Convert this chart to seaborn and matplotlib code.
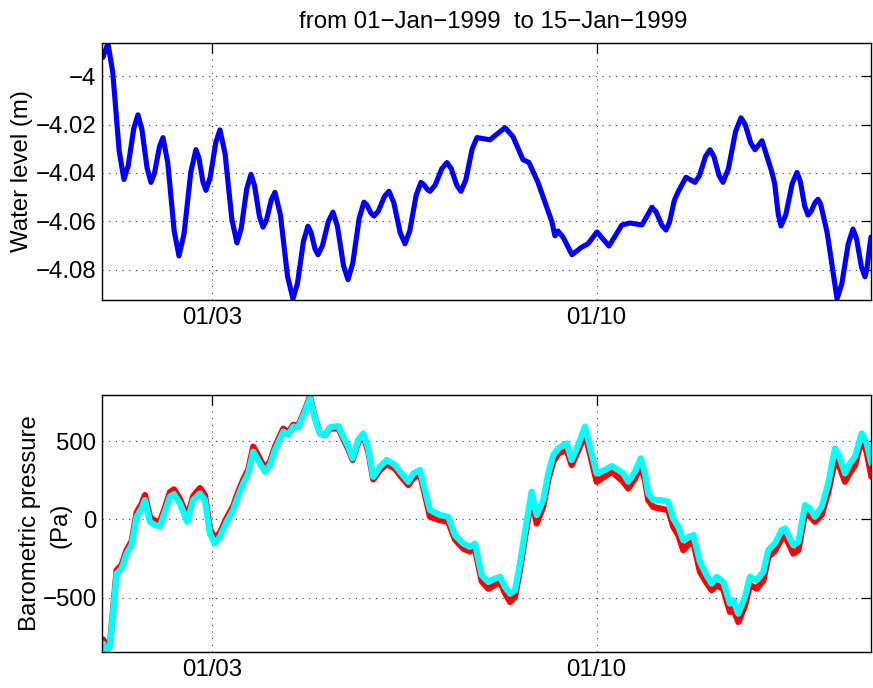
import numpy as np
import pandas as pd
import matplotlib
matplotlib.use("Agg")
import matplotlib.pyplot as plt
import seaborn as sns

# ---------------- data ----------------
start_date = "1999-01-01"
end_days = 14
title_text = "from 01\u2212Jan\u22121999  to 15\u2212Jan\u22121999"
xtick_dates = ["1999-01-03", "1999-01-10"]
xtick_labels = ["01/03", "01/10"]

wl_days = [0.018, 0.109, 0.196, 0.313, 0.400, 0.477, 0.579, 0.655, 0.726, 0.821,
           0.892, 0.957, 1.045, 1.110, 1.197, 1.314, 1.401, 1.494, 1.617, 1.710,
           1.765, 1.837, 1.892, 1.969, 2.071, 2.147, 2.240, 2.363, 2.456, 2.533,
           2.635, 2.711, 2.776, 2.864, 2.929, 2.995, 3.082, 3.148, 3.246, 3.377,
           3.475, 3.557, 3.666, 3.748, 3.803, 3.875, 3.930, 4.012, 4.121, 4.203,
           4.285, 4.394, 4.476, 4.563, 4.680, 4.767, 4.822, 4.894, 4.949, 5.031,
           5.140, 5.222, 5.309, 5.426, 5.513, 5.600, 5.717, 5.804, 5.853, 5.919,
           5.968, 6.061, 6.184, 6.277, 6.354, 6.456, 6.532, 6.619, 6.736, 6.823,
           7.060, 7.333, 7.478, 7.660, 7.769, 7.933, 8.188, 8.242, 8.297, 8.388,
           8.552, 8.734, 8.843, 9.007, 9.225, 9.461, 9.607, 9.825, 10.007, 10.084,
           10.186, 10.262, 10.327, 10.415, 10.480, 10.626, 10.790, 10.872, 10.981, 11.063,
           11.134, 11.228, 11.299, 11.397, 11.529, 11.627, 11.703, 11.805, 11.881, 12.009,
           12.191, 12.240, 12.306, 12.355, 12.442, 12.559, 12.646, 12.706, 12.786, 12.846,
           12.901, 12.973, 13.028, 13.077, 13.192, 13.250, 13.374, 13.461, 13.578, 13.665,
           13.730, 13.818, 13.883, 13.916, 13.959, 13.992]
wl_m = [-3.9922, -3.9865, -3.9983, -4.0309, -4.0427, -4.0371, -4.0216, -4.0160, -4.0219, -4.0380,
        -4.0439, -4.0400, -4.0293, -4.0254, -4.0357, -4.0640, -4.0743, -4.0651, -4.0396, -4.0304,
        -4.0339, -4.0437, -4.0472, -4.0419, -4.0274, -4.0222, -4.0320, -4.0591, -4.0689, -4.0630,
        -4.0465, -4.0406, -4.0452, -4.0578, -4.0624, -4.0594, -4.0510, -4.0480, -4.0572, -4.0828,
        -4.0920, -4.0857, -4.0683, -4.0620, -4.0645, -4.0713, -4.0738, -4.0701, -4.0599, -4.0562,
        -4.0621, -4.0782, -4.0841, -4.0774, -4.0588, -4.0521, -4.0533, -4.0566, -4.0578, -4.0557,
        -4.0497, -4.0476, -4.0522, -4.0647, -4.0693, -4.0640, -4.0492, -4.0439, -4.0447, -4.0468,
        -4.0476, -4.0451, -4.0382, -4.0357, -4.0382, -4.0451, -4.0476, -4.0429, -4.0301, -4.0254,
        -4.0263, -4.0213, -4.0250, -4.0345, -4.0357, -4.0439, -4.0603, -4.0660, -4.0640, -4.0665,
        -4.0738, -4.0706, -4.0693, -4.0644, -4.0702, -4.0615, -4.0607, -4.0615, -4.0542, -4.0562,
        -4.0616, -4.0636, -4.0603, -4.0513, -4.0480, -4.0418, -4.0439, -4.0411, -4.0332, -4.0304,
        -4.0332, -4.0411, -4.0439, -4.0383, -4.0228, -4.0172, -4.0200, -4.0276, -4.0304, -4.0267,
        -4.0398, -4.0444, -4.0573, -4.0619, -4.0573, -4.0444, -4.0398, -4.0435, -4.0537, -4.0574,
        -4.0560, -4.0523, -4.0509, -4.0530, -4.0644, -4.0730, -4.0920, -4.0859, -4.0693, -4.0632,
        -4.0673, -4.0788, -4.0829, -4.0800, -4.0720, -4.0665]
wl_ticks = [-4.08, -4.06, -4.04, -4.02, -4.0]
wl_ticklabels = ["\u22124.08", "\u22124.06", "\u22124.04", "\u22124.02", "\u22124"]
wl_ylim = (-4.0925, -3.9863)

bp_days = [0.024, 0.086, 0.146, 0.206, 0.267, 0.358, 0.449, 0.540, 0.631, 0.722,
           0.782, 0.873, 0.964, 1.055, 1.146, 1.237, 1.310, 1.419, 1.552, 1.661,
           1.783, 1.874, 1.965, 2.056, 2.147, 2.269, 2.389, 2.451, 2.571, 2.662,
           2.753, 2.875, 2.966, 3.057, 3.148, 3.299, 3.390, 3.481, 3.572, 3.694,
           3.785, 3.876, 3.967, 4.057, 4.148, 4.299, 4.391, 4.481, 4.561, 4.663,
           4.754, 4.845, 4.936, 5.058, 5.180, 5.331, 5.453, 5.573, 5.664, 5.786,
           5.877, 5.968, 6.150, 6.301, 6.423, 6.574, 6.696, 6.787, 6.909, 7.029,
           7.151, 7.242, 7.333, 7.424, 7.515, 7.606, 7.697, 7.818, 7.909, 8.030,
           8.121, 8.212, 8.303, 8.455, 8.546, 8.666, 8.788, 8.879, 9.001, 9.152,
           9.274, 9.394, 9.485, 9.576, 9.698, 9.802, 9.880, 9.940, 10.031, 10.153,
           10.304, 10.395, 10.486, 10.577, 10.668, 10.759, 10.881, 11.002, 11.093, 11.184,
           11.305, 11.426, 11.487, 11.578, 11.699, 11.790, 11.912, 12.033, 12.124, 12.245,
           12.367, 12.427, 12.518, 12.578, 12.669, 12.700, 12.791, 12.882, 12.973, 13.095,
           13.215, 13.337, 13.428, 13.519, 13.610, 13.701, 13.823, 13.914, 14.000]
bp_cyan = [-794, -836, -815, -580, -346, -314, -218, -164, 17, 70,
           124, -15, -36, -43, 49, 145, 162, 102, -15, 124,
           166, 124, -90, -154, -111, -15, 60, 124, 230, 294,
           433, 358, 305, 348, 444, 561, 540, 593, 589, 689,
           774, 646, 550, 540, 589, 597, 529, 465, 390, 508,
           550, 454, 273, 337, 380, 348, 294, 241, 294, 316,
           188, 60, 28, 17, -100, -154, -175, -154, -356, -399,
           -378, -367, -431, -474, -452, -282, -79, 177, 28, 124,
           294, 412, 454, 486, 380, 476, 593, 465, 294, 316,
           341, 316, 294, 241, 305, 390, 294, 166, 124, 124,
           113, 6, -47, -132, -111, -100, -271, -356, -410, -367,
           -399, -538, -516, -602, -495, -367, -388, -335, -196, -154,
           -68, -58, -122, -164, -143, -90, 92, 70, 17, 81,
           230, 454, 390, 294, 358, 401, 550, 486, 358]
bp_red = [-768, -815, -800, -560, -325, -290, -195, -140, 45, 100,
          156, 15, -10, -15, 75, 175, 192, 130, 15, 150,
          200, 155, -60, -125, -85, 10, 85, 150, 255, 318,
          465, 385, 325, 370, 465, 580, 555, 605, 600, 700,
          785, 650, 550, 538, 580, 585, 515, 450, 380, 495,
          535, 435, 256, 315, 355, 325, 270, 220, 265, 290,
          160, 17, -4, -15, -128, -186, -205, -185, -395, -442,
          -420, -399, -470, -527, -495, -320, -115, 140, -26, 85,
          255, 370, 422, 445, 348, 440, 550, 420, 241, 275,
          305, 270, 241, 198, 262, 348, 250, 124, 80, 70,
          60, -47, -100, -196, -160, -143, -335, -405, -452, -420,
          -445, -591, -570, -655, -550, -420, -442, -390, -239, -200,
          -122, -105, -170, -218, -196, -140, 38, 20, -15, 30,
          175, 380, 330, 241, 300, 345, 518, 430, 273]
bp_ticks = [-500, 0, 500]
bp_ticklabels = ["\u2212500", "0", "500"]
bp_ylim = (-847, 795)
bp_label_lines = ["Barometric pressure", "(Pa)"]

# ---------------- figure ----------------
sns.set_style("white")
plt.rcParams["font.family"] = ["Liberation Sans", "DejaVu Sans"]
plt.rcParams["text.color"] = "black"
plt.rcParams["axes.labelcolor"] = "black"
FS = 17.3

fig = plt.figure(figsize=(8.73, 6.88), dpi=100)
ax1 = fig.add_axes([0.1168, 0.5640, 0.8814, 0.3735])
ax2 = fig.add_axes([0.1168, 0.0523, 0.8814, 0.3735])

t0 = pd.Timestamp(start_date)
df_wl = pd.DataFrame({"time": t0 + pd.to_timedelta(wl_days, unit="D"), "level": wl_m})
df_bp = pd.DataFrame({"time": t0 + pd.to_timedelta(bp_days, unit="D"),
                      "red": bp_red, "cyan": bp_cyan})

line_kw = dict(estimator=None, sort=False, legend=False,
               solid_capstyle="round", solid_joinstyle="round")
sns.lineplot(data=df_wl, x="time", y="level", ax=ax1, color="#0000ff", lw=3.7, **line_kw)
sns.lineplot(data=df_bp, x="time", y="red", ax=ax2, color="#ff0000", lw=4.5, **line_kw)
sns.lineplot(data=df_bp, x="time", y="cyan", ax=ax2, color="#00ffff", lw=4.5, **line_kw)

xt = [pd.Timestamp(d) for d in xtick_dates]
for ax in (ax1, ax2):
    ax.set_xlim(t0, t0 + pd.Timedelta(days=end_days))
    ax.set_xticks(xt)
    ax.set_xticklabels(xtick_labels)
    ax.set_xlabel("")
    ax.grid(True, color="0.2", linestyle=(0, (1, 5)), lw=0.8)
    ax.set_axisbelow(True)
    ax.tick_params(direction="in", length=7, width=0.9, top=True, right=True,
                   labelsize=FS, pad=5, colors="black")
    ax.tick_params(axis="y", pad=4)
    for s in ax.spines.values():
        s.set_visible(True)
        s.set_color("black")
        s.set_linewidth(1.0)

ax1.set_ylim(*wl_ylim)
ax1.set_yticks(wl_ticks)
ax1.set_yticklabels(wl_ticklabels)
ax1.set_ylabel("Water level (m)", fontsize=FS, color="black")
ax1.yaxis.set_label_coords(-0.0897, 0.5)
ax1.set_title(title_text, fontsize=FS, pad=11, color="black", x=0.508)

ax2.set_ylim(*bp_ylim)
ax2.set_yticks(bp_ticks)
ax2.set_yticklabels(bp_ticklabels)
ax2.set_ylabel(bp_label_lines[0], fontsize=FS, color="black")
ax2.yaxis.set_label_coords(-0.0795, 0.5)
ax2.text(-0.0545, 0.495, bp_label_lines[1], transform=ax2.transAxes, fontsize=FS,
         rotation=90, ha="center", va="center", color="black")

fig.savefig("out.png", dpi=100)
